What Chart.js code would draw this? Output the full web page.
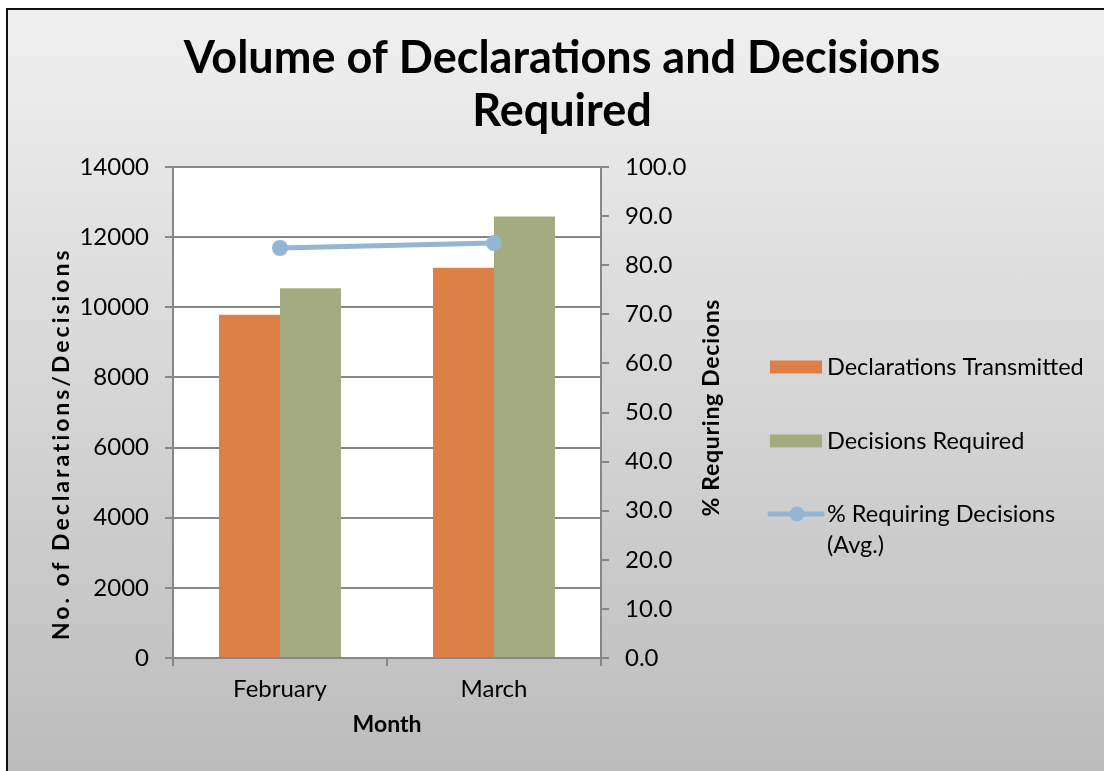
<!DOCTYPE html>
<html><head><meta charset="utf-8">
<script src="https://cdn.jsdelivr.net/npm/chart.js@4.4.0/dist/chart.umd.min.js"></script>
<style>
html,body{margin:0;padding:0;background:#fff;width:1104px;height:771px;overflow:hidden;}
#frame{position:absolute;left:6px;top:8px;width:1110px;height:775px;border-left:2px solid #111;border-top:2px solid #111;background:linear-gradient(to bottom,#f0f0f0,#bbbbbb);}
#wrap{position:absolute;left:0;top:0;width:1104px;height:771px;}
canvas{display:block;}
</style></head><body>
<div id="frame"></div>
<div id="wrap"><canvas id="c" width="1104" height="771"></canvas></div>
<script>
// ---- data ----
const months = ['February', 'March'];
const declarationsTransmitted = [9790, 11130];
const decisionsRequired = [10540, 12590];
const pctRequiringDecisions = [83.5, 84.5];
const seriesNames = ['Declarations Transmitted', 'Decisions Required', '% Requiring Decisions (Avg.)'];
const leftAxisTicks = [0, 2000, 4000, 6000, 8000, 10000, 12000, 14000];
const rightAxisTicks = [0, 10, 20, 30, 40, 50, 60, 70, 80, 90, 100];
const titleLines = ['Volume of Declarations and Decisions', 'Required'];
const leftAxisTitle = 'No. of Declarations/Decisions';
const rightAxisTitle = '% Requring Decions';
const xAxisTitle = 'Month';

// ---- style ----
const FONT = 'Lato, "Open Sans", sans-serif';
const AXIS = '#878787';
const COLORS = ['#DD8047', '#A5AB81', '#94B6D2'];

const plotBg = {
  id: 'plotBg',
  beforeDraw(chart) {
    const a = chart.chartArea, ctx = chart.ctx;
    ctx.save(); ctx.fillStyle = '#ffffff';
    ctx.fillRect(a.left, a.top, a.right - a.left, a.bottom - a.top);
    ctx.restore();
  }
};

function wrapText(ctx, text, maxW) {
  const words = text.split(' '); const lines = []; let cur = '';
  for (const w of words) {
    const t = cur ? cur + ' ' + w : w;
    if (ctx.measureText(t).width > maxW && cur) { lines.push(cur); cur = w; } else cur = t;
  }
  if (cur) lines.push(cur);
  return lines;
}

// draw rotated text stretched to a target length (mimics the wider original typeface)
function drawVertical(ctx, text, cx, cy, targetLen) {
  ctx.save();
  ctx.translate(cx, cy); ctx.rotate(-Math.PI / 2);
  const w = ctx.measureText(text).width;
  if ('letterSpacing' in ctx) {
    const sp = (targetLen - w) / (text.length - 1);
    ctx.letterSpacing = sp.toFixed(2) + 'px';
    const w2 = ctx.measureText(text).width;
    ctx.textAlign = 'left';
    ctx.fillText(text, -targetLen / 2, 0);
  } else {
    ctx.scale(targetLen / w, 1);
    ctx.fillText(text, 0, 0);
  }
  ctx.restore();
}

const extras = {
  id: 'extras',
  afterDraw(chart) {
    const ctx = chart.ctx, a = chart.chartArea;
    ctx.save();
    ctx.fillStyle = '#000';
    ctx.font = 'bold 23px ' + FONT;
    ctx.textAlign = 'center'; ctx.textBaseline = 'middle';
    drawVertical(ctx, leftAxisTitle, a.left - 111, a.bottom - 213, 390);
    drawVertical(ctx, rightAxisTitle, a.right + 111, a.top + 241, 217);
    // legend
    ctx.font = '23.5px ' + FONT; ctx.textAlign = 'left';
    const lx = 770, tx = 827, ys = [367, 441, 514], lh = 31;
    chart.data.datasets.forEach((ds, i) => {
      const y = ys[i];
      if (ds.type === 'line') {
        ctx.strokeStyle = ds.borderColor; ctx.lineWidth = 5; ctx.lineCap = 'round';
        ctx.beginPath(); ctx.moveTo(lx, y); ctx.lineTo(lx + 52, y); ctx.stroke();
        ctx.fillStyle = ds.borderColor; ctx.beginPath(); ctx.arc(lx + 27, y, 7.5, 0, Math.PI * 2); ctx.fill();
      } else {
        ctx.fillStyle = ds.backgroundColor; ctx.fillRect(lx, y - 6.5, 52, 13);
      }
      ctx.fillStyle = '#000';
      wrapText(ctx, ds.label, 262).forEach((ln, k) => ctx.fillText(ln, tx, y + k * lh));
    });
    ctx.restore();
  }
};

new Chart(document.getElementById('c'), {
  type: 'bar',
  data: {
    labels: months,
    datasets: [
      { label: seriesNames[0], data: declarationsTransmitted, backgroundColor: COLORS[0], yAxisID: 'y', order: 1,
        categoryPercentage: 0.57, barPercentage: 1.0, borderWidth: 0 },
      { label: seriesNames[1], data: decisionsRequired, backgroundColor: COLORS[1], yAxisID: 'y', order: 1,
        categoryPercentage: 0.57, barPercentage: 1.0, borderWidth: 0 },
      { type: 'line', label: seriesNames[2], data: pctRequiringDecisions, yAxisID: 'y1', order: 0,
        borderColor: COLORS[2], backgroundColor: COLORS[2], borderWidth: 5, pointRadius: 8,
        pointBackgroundColor: COLORS[2], pointBorderWidth: 0, tension: 0 }
    ]
  },
  options: {
    responsive: false, animation: false, devicePixelRatio: 1,
    layout: { padding: { left: 20, right: 0, top: 0, bottom: 0 } },
    plugins: {
      legend: { display: false }, tooltip: { enabled: false },
      title: { display: true, text: titleLines, color: '#000',
        font: { family: FONT, size: 45, weight: 'bold', lineHeight: 1.178 },
        padding: { top: 32, bottom: 29 } }
    },
    scales: {
      x: {
        grid: { display: true, offset: true, drawOnChartArea: false, drawTicks: true, tickLength: 8, color: AXIS, lineWidth: 2 },
        border: { display: true, color: AXIS, width: 2 },
        ticks: { color: '#000', font: { family: FONT, size: 24 }, padding: 9, maxRotation: 0 },
        title: { display: true, text: xAxisTitle, color: '#000', font: { family: FONT, size: 23, weight: 'bold' }, padding: { top: 0, bottom: 33 } },
        afterFit(s) { s.height = 113; }
      },
      y: {
        position: 'left', min: leftAxisTicks[0], max: leftAxisTicks[leftAxisTicks.length - 1],
        afterBuildTicks(s) { s.ticks = leftAxisTicks.map(v => ({ value: v })); },
        grid: { color: AXIS, lineWidth: 2, tickLength: 8, drawTicks: true },
        border: { display: true, color: AXIS, width: 2 },
        ticks: { color: '#000', font: { family: FONT, size: 24 }, padding: 16, callback: v => String(v) },
        afterFit(s) { s.width = 153; }
      },
      y1: {
        position: 'right', min: rightAxisTicks[0], max: rightAxisTicks[rightAxisTicks.length - 1],
        afterBuildTicks(s) { s.ticks = rightAxisTicks.map(v => ({ value: v })); },
        grid: { drawOnChartArea: false, color: AXIS, lineWidth: 2, tickLength: 8, drawTicks: true },
        border: { display: true, color: AXIS, width: 2 },
        ticks: { color: '#000', font: { family: FONT, size: 24 }, padding: 16, callback: v => Number(v).toFixed(1) },
        afterFit(s) { s.width = 503; }
      }
    }
  },
  plugins: [plotBg, extras]
});
</script>
</body></html>
